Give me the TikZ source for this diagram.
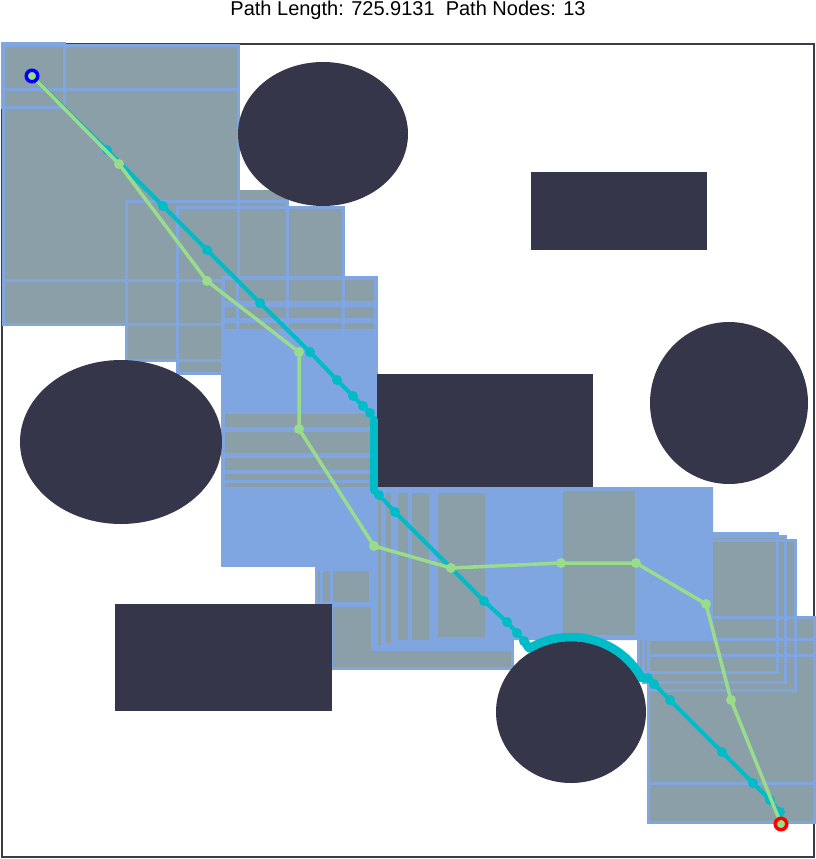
\documentclass[tikz,border=0pt]{standalone}
\usepackage{fontspec}
\setmainfont{Liberation Sans}
\definecolor{obstc}{RGB}{54,54,74}
\definecolor{freegray}{RGB}{139,159,168}
\definecolor{freeblue}{RGB}{127,166,225}
\definecolor{pathgreen}{RGB}{152,220,140}
\definecolor{pathcyan}{RGB}{0,188,200}
\definecolor{framegray}{RGB}{60,60,72}
\tikzset{
  cellfill/.style = {fill=freegray},
  cellline/.style = {draw=freeblue, line width=3pt},
  zone/.style     = {fill=freeblue},
  stripe/.style   = {fill=freegray},
  obstacle/.style = {fill=obstc},
  rawpath/.style  = {draw=pathgreen, line width=3.5pt, line join=round},
  rawpt/.style    = {fill=pathgreen},
  optpath/.style  = {draw=pathcyan, line width=4pt, line join=round},
  optpt/.style    = {fill=pathcyan},
  hug/.style      = {draw=pathcyan, line width=8.5pt, line cap=round, line join=round},
  endmark/.style  = {circle, line width=3.5pt, minimum size=11.5pt, inner sep=0pt,
                     fill=pathgreen}
}

\begin{document}
\begin{tikzpicture}[x=1pt,y=-1pt]
  \useasboundingbox (0,0) rectangle (816,859);
  \node[font=\fontsize{20}{24}\selectfont, anchor=base] (title) at (408,16)
    {Path Length: 725.9131\ \ Path Nodes: 13};
  \draw[framegray, line width=1.5pt] (2,44) rectangle (814,857);
  % ---- free-space cells ----
  \def\cells{3/46/238/280, 3/89/238/324, 2/44/64/107,
             126/201/287/360, 177/207/343/373,
             638/533/777/672, 643/536/785/682, 648/540/795/690,
             648/617/814/783, 648/639/814/822, 648/655/814/822,
             331/605/512/668, 316/567/438/605}
  \foreach \xa/\ya/\xb/\yb in \cells
    \fill[cellfill] (\xa,\ya) rectangle (\xb,\yb);
  \fill[cellfill] (238,190) rectangle (288,201);
  \foreach \xa/\ya/\xb/\yb in \cells
    \draw[cellline] (\xa,\ya) rectangle (\xb,\yb);
  % ---- merged cells ----
  \fill[zone] (221,276) rectangle (378,567);
  \fill[zone] (371,487) -- (713,487) -- (713,640) -- (512,640) -- (512,651)
              -- (371,651) -- (371,605) -- (316,605) -- (316,567) -- (371,567) -- cycle;
  \foreach \xa/\ya/\xb/\yb in {225/280/374/301, 225/307/374/318, 225/323/374/329,
      225/414/370/427, 225/432/370/453, 225/458/370/470, 225/474/370/480, 225/483/370/487,
      563/491/635/635, 438/493/485/637, 412/493/429/640, 398/493/408/640,
      386/493/391/643, 378/493/381/645,
      333/571/369/602, 323/571/330/602, 318/571/320/602}
    \fill[stripe] (\xa,\ya) rectangle (\xb,\yb);
  \foreach \xv in {237,287,343}
    \draw[cellline] (\xv,276) -- (\xv,332);
  % ---- obstacles ----
  \fill[obstacle] (323,134) ellipse [x radius=85pt, y radius=72pt];
  \fill[obstacle] (729,403) ellipse [x radius=79pt, y radius=81pt];
  \fill[obstacle] (121,442) ellipse [x radius=101pt, y radius=82pt];
  \fill[obstacle] (571,712) ellipse [x radius=75pt, y radius=71pt];
  \fill[obstacle] (531,172) rectangle (707,250);
  \fill[obstacle] (377,374) rectangle (593,487);
  \fill[obstacle] (115,604) rectangle (332,711);
  % ---- smoothed path ----
  \coordinate (start) at (32,76);
  \coordinate (goal)  at (781,824);
  \foreach \px/\py [count=\i] in {107/150,163/206,207/250,260/303,310/352,
      337/380,353/396,363/406,370/413,374/420,374/490,379/495,
      395/512,484/601,507/622,517/633,524/641,648/678,654/684,
      670/700,722/752,753/783,770/800,780/812}
    \coordinate (c\i) at (\px,\py);
  \draw[optpath] (start) -- (c1) -- (c2) -- (c3) -- (c4) -- (c5) -- (c6) -- (c7)
    -- (c8) -- (c9) -- (c10) -- (c11) -- (c12) -- (c13) -- (c14) -- (c15) -- (c16)
    -- (c17);
  \draw[optpath] (c18) -- (c19) -- (c20) -- (c21) -- (c22) -- (c23) -- (c24) -- (goal);
  \draw[hug] (c10) -- (c11);
  \draw[hug] (c17) -- plot[domain=238:333, samples=40] ({571+79*cos(\x)},{712+75*sin(\x)})
    -- (c18);
  \foreach \i in {1,...,9,12,13,...,24}
    \fill[optpt] (c\i) circle (5pt);
  % ---- raw path ----
  \foreach \px/\py [count=\i] in {119/164,207/281,299/352,299/429,374/546,
      451/568,561/563,636/563,706/604,731/700}
    \coordinate (g\i) at (\px,\py);
  \draw[rawpath] (start) -- (g1) -- (g2) -- (g3) -- (g4) -- (g5) -- (g6) -- (g7)
    -- (g8) -- (g9) -- (g10) -- (goal);
  \foreach \i in {1,...,10}
    \fill[rawpt] (g\i) circle (5pt);
  \node[endmark, draw=blue] (startmark) at (start) {};
  \node[endmark, draw=red] (goalmark) at (goal) {};
\end{tikzpicture}
\end{document}
